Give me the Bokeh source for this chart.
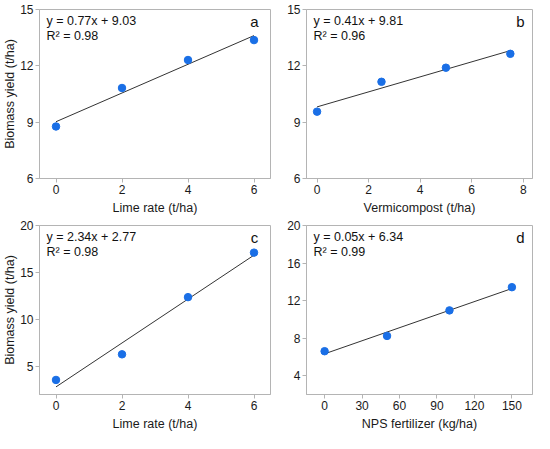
import numpy as np
from bokeh.plotting import figure
from bokeh.layouts import gridplot
from bokeh.models import Label, FixedTicker, Range1d
from bokeh.embed import file_html
from bokeh.resources import INLINE

# ---- data ----
a_x = [0, 2, 4, 6]
a_y = [8.77, 10.82, 12.31, 13.37]
b_x = [0, 2.5, 5, 7.5]
b_y = [9.56, 11.15, 11.90, 12.64]
c_x = [0, 2, 4, 6]
c_y = [3.55, 6.28, 12.37, 17.11]
d_x = [0, 50, 100, 150]
d_y = [6.61, 8.24, 10.96, 13.43]

a_eq = ["y = 0.77x + 9.03", "R\u00b2 = 0.98"]
b_eq = ["y = 0.41x + 9.81", "R\u00b2 = 0.96"]
c_eq = ["y = 2.34x + 2.77", "R\u00b2 = 0.98"]
d_eq = ["y = 0.05x + 6.34", "R\u00b2 = 0.99"]

a_xticks = [0, 2, 4, 6]
b_xticks = [0, 2, 4, 6, 8]
c_xticks = [0, 2, 4, 6]
d_xticks = [0, 30, 60, 90, 120, 150]
ab_yticks = [6, 9, 12, 15]
c_yticks = [5, 10, 15, 20]
d_yticks = [4, 8, 12, 16, 20]

Y_LABEL = "Biomass yield (t/ha)"

FONT = "Liberation Sans"
FRAME = "#b4b4b4"
BLUE = "#1a6fe6"
TXT = "#1a1a1a"


def panel(xs, ys, eq, letter, letter_dx, xr, yr, xticks, yticks, xlabel, ylabel,
          width, height, bl, br, bt, bb):
    p = figure(width=width, height=height, output_backend="svg",
               toolbar_location=None, x_range=Range1d(*xr), y_range=Range1d(*yr),
               min_border_left=bl, min_border_right=br,
               min_border_top=bt, min_border_bottom=bb)
    p.grid.visible = False
    p.outline_line_color = FRAME
    p.outline_line_width = 1
    for ax, ticks in ((p.xaxis, xticks), (p.yaxis, yticks)):
        ax.ticker = FixedTicker(ticks=ticks)
        ax.axis_line_color = FRAME
        ax.major_tick_line_color = FRAME
        ax.major_tick_out = 4
        ax.major_tick_in = 0
        ax.minor_tick_line_color = None
        ax.major_label_text_font = FONT
        ax.major_label_text_font_size = "12px"
        ax.major_label_text_color = TXT
        ax.major_label_standoff = 2
        ax.axis_label_text_font = FONT
        ax.axis_label_text_font_size = "12.5px"
        ax.axis_label_text_font_style = "normal"
        ax.axis_label_text_color = TXT
        ax.axis_label_standoff = 4
    p.yaxis.major_label_standoff = 2
    p.yaxis.axis_label_standoff = 0
    p.xaxis.axis_label = xlabel
    if ylabel:
        p.yaxis.axis_label = ylabel

    k, b0 = np.polyfit(xs, ys, 1)
    lx = [min(xs), max(xs)]
    p.line(lx, [k * v + b0 for v in lx], line_color="#333333", line_width=1)
    p.scatter(xs, ys, size=7.5, fill_color=BLUE, line_color=BLUE)

    p.add_layout(Label(x=xr[0], y=yr[1], x_offset=7, y_offset=-4,
                       text=eq[0], text_font=FONT, text_font_size="12.5px",
                       text_baseline="top", text_color="#111111"))
    p.add_layout(Label(x=xr[0], y=yr[1], x_offset=7, y_offset=-19.5,
                       text=eq[1], text_font=FONT, text_font_size="12.5px",
                       text_baseline="top", text_color="#111111"))
    p.add_layout(Label(x=xr[1], y=yr[1], x_offset=letter_dx, y_offset=-3,
                       text=letter, text_font=FONT, text_font_size="15px",
                       text_baseline="top", text_align="center",
                       text_color="#111111"))
    return p


pa = panel(a_x, a_y, a_eq, "a", -16, (-0.5, 6.5), (6, 15), a_xticks, ab_yticks,
           "Lime rate (t/ha)", Y_LABEL, 274, 217, 37, 4, 9, 38)
pb = panel(b_x, b_y, b_eq, "b", -12, (-0.41, 8.36), (6, 15), b_xticks, ab_yticks,
           "Vermicompost (t/ha)", None, 260, 217, 32, 2, 9, 38)
pc = panel(c_x, c_y, c_eq, "c", -16, (-0.5, 6.5), (2, 20), c_xticks, c_yticks,
           "Lime rate (t/ha)", Y_LABEL, 274, 216, 37, 4, 8, 38)
pd_ = panel(d_x, d_y, d_eq, "d", -12, (-14.5, 166.5), (2, 20), d_xticks, d_yticks,
            "NPS fertilizer (kg/ha)", None, 260, 216, 32, 2, 8, 38)

grid = gridplot([[pa, pb], [pc, pd_]], toolbar_location=None)

open("out.html", "w").write(file_html(grid, INLINE))
